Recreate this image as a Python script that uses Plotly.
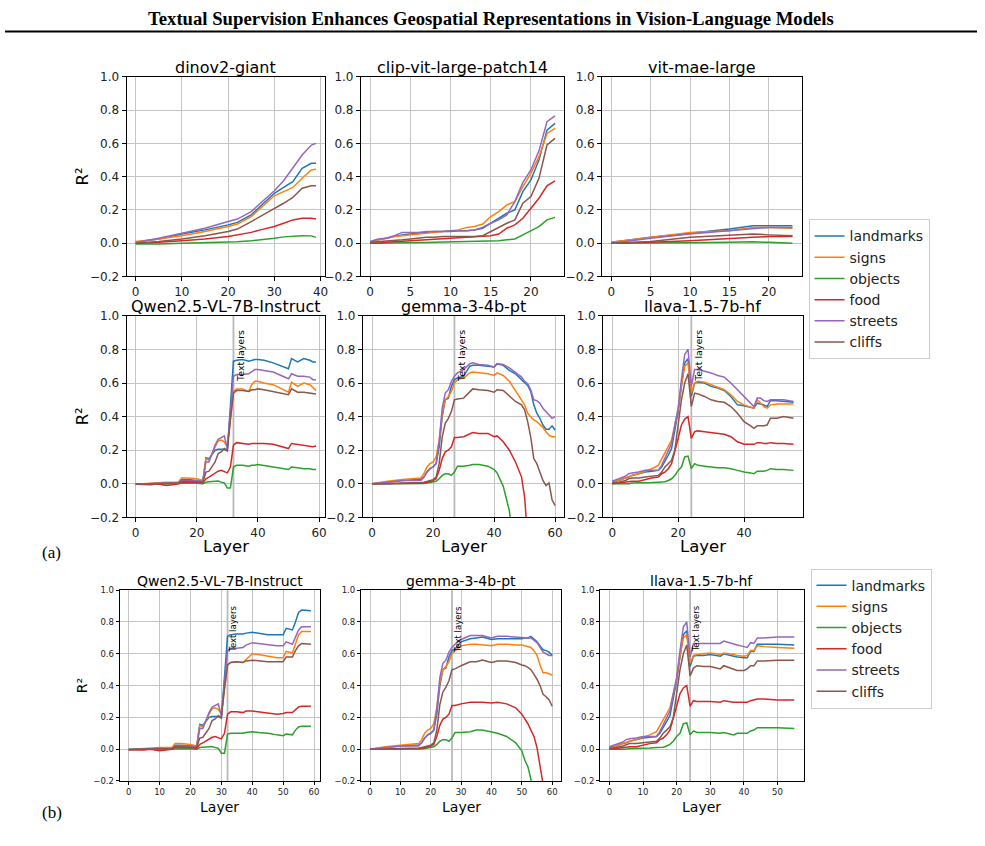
import plotly.graph_objects as go

W, H = 985, 846
SERIES = ["landmarks", "signs", "objects", "food", "streets", "cliffs"]
COLORS = ["#1f77b4", "#ff7f0e", "#2ca02c", "#d62728", "#9467bd", "#8c564b"]

# ---------------- dinov2-giant ----------------
dino_layers = [0, 5, 10, 15, 20, 22, 25, 27, 30, 32, 34, 36, 38, 39]
dino_landmarks = [0.005, 0.025, 0.055, 0.08, 0.11, 0.125, 0.17, 0.22, 0.30, 0.335, 0.37, 0.45, 0.48, 0.48]
dino_signs = [0.01, 0.025, 0.045, 0.07, 0.10, 0.115, 0.16, 0.21, 0.285, 0.31, 0.335, 0.39, 0.44, 0.445]
dino_objects = [-0.005, -0.005, 0.0, 0.003, 0.005, 0.008, 0.015, 0.02, 0.03, 0.038, 0.042, 0.045, 0.044, 0.035]
dino_food = [0.0, 0.005, 0.015, 0.025, 0.04, 0.05, 0.065, 0.08, 0.10, 0.12, 0.14, 0.15, 0.15, 0.145]
dino_streets = [0.005, 0.03, 0.06, 0.09, 0.13, 0.145, 0.19, 0.24, 0.315, 0.375, 0.45, 0.53, 0.59, 0.60]
dino_cliffs = [0.0, 0.01, 0.025, 0.045, 0.07, 0.085, 0.13, 0.16, 0.21, 0.24, 0.275, 0.33, 0.345, 0.345]

# ---------------- clip-vit-large-patch14 ----------------
clip_layers = list(range(24))
clip_landmarks = [0.005, 0.02, 0.03, 0.04, 0.05, 0.055, 0.06, 0.065, 0.07, 0.07, 0.07, 0.075, 0.075, 0.08, 0.09, 0.12, 0.15, 0.18, 0.20, 0.31, 0.38, 0.50, 0.68, 0.72]
clip_signs = [0.005, 0.02, 0.03, 0.04, 0.045, 0.05, 0.055, 0.06, 0.065, 0.07, 0.075, 0.08, 0.095, 0.10, 0.115, 0.16, 0.19, 0.23, 0.25, 0.34, 0.42, 0.52, 0.66, 0.69]
clip_objects = [0, 0, 0, 0, 0, 0.002, 0.003, 0.004, 0.005, 0.006, 0.007, 0.008, 0.009, 0.01, 0.01, 0.012, 0.015, 0.02, 0.025, 0.05, 0.075, 0.10, 0.14, 0.155]
clip_food = [0, 0, 0.005, 0.008, 0.01, 0.012, 0.015, 0.017, 0.02, 0.025, 0.028, 0.03, 0.032, 0.035, 0.04, 0.045, 0.055, 0.09, 0.11, 0.15, 0.21, 0.27, 0.345, 0.375]
clip_streets = [0.01, 0.025, 0.03, 0.045, 0.065, 0.065, 0.065, 0.07, 0.07, 0.07, 0.075, 0.075, 0.075, 0.08, 0.095, 0.12, 0.14, 0.17, 0.25, 0.365, 0.44, 0.555, 0.73, 0.765]
clip_cliffs = [0.005, 0.008, 0.01, 0.015, 0.02, 0.025, 0.03, 0.035, 0.035, 0.04, 0.04, 0.04, 0.04, 0.04, 0.045, 0.07, 0.09, 0.12, 0.14, 0.24, 0.28, 0.39, 0.59, 0.63]

# ---------------- vit-mae-large ----------------
mae_layers = [0, 5, 10, 15, 18, 20, 23]
mae_landmarks = [0.005, 0.035, 0.06, 0.085, 0.105, 0.105, 0.105]
mae_signs = [0.005, 0.035, 0.065, 0.075, 0.095, 0.095, 0.09]
mae_objects = [0.0, 0.0, 0.003, 0.005, 0.008, 0.005, 0.0]
mae_food = [0.0, 0.005, 0.015, 0.025, 0.035, 0.04, 0.04]
mae_streets = [0.0, 0.03, 0.055, 0.075, 0.09, 0.095, 0.095]
mae_cliffs = [0.0, 0.01, 0.035, 0.045, 0.055, 0.05, 0.045]

# ---------------- Qwen2.5-VL-7B-Instruct ----------------
qwen_text_start = 32
qwen_layers_head = [0, 5, 7, 10, 12, 14, 15, 17, 20, 22, 23, 24, 26, 27, 28, 29, 30, 31]
qwen_landmarks_head = [-0.002, 0.003, 0.005, 0.005, 0.005, 0.005, 0.025, 0.025, 0.02, 0.015, 0.155, 0.15, 0.20, 0.205, 0.205, 0.205, 0.195, 0.45]
qwen_signs_head = [-0.002, 0.005, 0.01, 0.01, 0.01, 0.01, 0.035, 0.035, 0.03, 0.02, 0.15, 0.14, 0.22, 0.255, 0.26, 0.25, 0.22, 0.38]
qwen_objects_head = [-0.002, 0.0, 0.0, 0.0, 0.0, 0.0, 0.005, 0.005, 0.003, 0.0, 0.01, 0.012, 0.015, 0.017, 0.01, 0.005, -0.025, -0.025]
qwen_food_head = [-0.003, -0.005, 0.0, -0.01, -0.005, 0.0, 0.01, 0.01, 0.01, 0.005, 0.03, 0.04, 0.065, 0.075, 0.08, 0.07, 0.065, 0.10]
qwen_streets_head = [-0.002, 0.003, 0.005, 0.005, 0.005, 0.005, 0.02, 0.02, 0.018, 0.015, 0.13, 0.13, 0.23, 0.265, 0.275, 0.285, 0.21, 0.42]
qwen_cliffs_head = [-0.002, 0.0, 0.005, 0.005, 0.005, 0.005, 0.015, 0.015, 0.012, 0.01, 0.07, 0.075, 0.13, 0.18, 0.19, 0.21, 0.20, 0.38]

qwen_a_layers_tail = [32, 33, 35, 37, 38, 39, 40, 42, 45, 50, 51, 53, 55, 57, 58, 59]
qwen_a_landmarks_tail = [0.73, 0.735, 0.74, 0.73, 0.735, 0.74, 0.74, 0.735, 0.72, 0.685, 0.745, 0.725, 0.745, 0.735, 0.725, 0.725]
qwen_a_signs_tail = [0.55, 0.565, 0.565, 0.55, 0.59, 0.61, 0.61, 0.60, 0.59, 0.545, 0.605, 0.58, 0.60, 0.59, 0.575, 0.555]
qwen_a_objects_tail = [0.10, 0.11, 0.11, 0.105, 0.11, 0.11, 0.115, 0.11, 0.10, 0.085, 0.10, 0.095, 0.09, 0.09, 0.085, 0.085]
qwen_a_food_tail = [0.23, 0.245, 0.24, 0.235, 0.24, 0.24, 0.24, 0.24, 0.235, 0.21, 0.24, 0.235, 0.23, 0.225, 0.22, 0.225]
qwen_a_streets_tail = [0.64, 0.65, 0.65, 0.655, 0.67, 0.68, 0.68, 0.675, 0.665, 0.625, 0.655, 0.64, 0.64, 0.635, 0.62, 0.62]
qwen_a_cliffs_tail = [0.54, 0.555, 0.555, 0.55, 0.56, 0.56, 0.565, 0.56, 0.55, 0.53, 0.565, 0.545, 0.545, 0.54, 0.535, 0.535]

qwen_b_layers_tail = [32, 33, 35, 37, 38, 40, 42, 45, 48, 50, 51, 53, 54, 55, 56, 59]
qwen_b_landmarks_tail = [0.71, 0.72, 0.725, 0.725, 0.73, 0.735, 0.73, 0.72, 0.72, 0.72, 0.76, 0.75, 0.80, 0.86, 0.875, 0.87]
qwen_b_signs_tail = [0.53, 0.545, 0.55, 0.545, 0.565, 0.60, 0.595, 0.585, 0.575, 0.575, 0.615, 0.605, 0.66, 0.72, 0.74, 0.74]
qwen_b_objects_tail = [0.095, 0.10, 0.10, 0.10, 0.105, 0.11, 0.105, 0.10, 0.09, 0.085, 0.095, 0.09, 0.12, 0.14, 0.145, 0.145]
qwen_b_food_tail = [0.22, 0.235, 0.235, 0.23, 0.24, 0.24, 0.235, 0.225, 0.22, 0.225, 0.23, 0.23, 0.25, 0.265, 0.27, 0.27]
qwen_b_streets_tail = [0.62, 0.635, 0.635, 0.64, 0.655, 0.67, 0.665, 0.655, 0.65, 0.65, 0.675, 0.66, 0.71, 0.75, 0.77, 0.77]
qwen_b_cliffs_tail = [0.53, 0.545, 0.55, 0.545, 0.555, 0.56, 0.555, 0.55, 0.55, 0.55, 0.58, 0.58, 0.62, 0.65, 0.665, 0.66]

# ---------------- gemma-3-4b-pt ----------------
gemma_text_start = 27
gemma_layers_head = [0, 5, 10, 15, 16, 17, 18, 19, 20, 21, 22, 23, 24, 25, 26, 27, 28]
gemma_landmarks_head = [0, 0.01, 0.02, 0.025, 0.025, 0.04, 0.07, 0.09, 0.10, 0.12, 0.22, 0.40, 0.50, 0.51, 0.58, 0.62, 0.63]
gemma_signs_head = [0, 0.015, 0.025, 0.035, 0.035, 0.06, 0.10, 0.12, 0.13, 0.16, 0.26, 0.42, 0.50, 0.52, 0.55, 0.60, 0.62]
gemma_objects_head = [0, 0, 0, 0, 0, 0.002, 0.005, 0.008, 0.01, 0.015, 0.03, 0.05, 0.06, 0.06, 0.05, 0.07, 0.105]
gemma_food_head = [0, 0, 0, 0, 0.003, 0.005, 0.01, 0.015, 0.02, 0.03, 0.08, 0.15, 0.19, 0.20, 0.22, 0.275, 0.275]
gemma_streets_head = [0, 0.01, 0.02, 0.02, 0.02, 0.04, 0.07, 0.09, 0.10, 0.12, 0.25, 0.45, 0.54, 0.56, 0.61, 0.64, 0.66]
gemma_cliffs_head = [0, 0, 0.005, 0.005, 0.008, 0.01, 0.015, 0.02, 0.025, 0.04, 0.12, 0.28, 0.36, 0.39, 0.43, 0.50, 0.505]

gemma_a_layers_tail = [30, 32, 33, 35, 38, 40, 41, 43, 45, 47, 49, 50, 51, 52, 53, 54, 55, 56, 57, 58, 59, 60]
gemma_a_landmarks_tail = [0.64, 0.70, 0.705, 0.705, 0.70, 0.695, 0.715, 0.705, 0.675, 0.655, 0.62, 0.60, 0.585, 0.55, 0.47, 0.42, 0.39, 0.35, 0.325, 0.325, 0.345, 0.32]
gemma_a_signs_tail = [0.63, 0.66, 0.665, 0.66, 0.655, 0.645, 0.66, 0.645, 0.61, 0.555, 0.50, 0.47, 0.42, 0.40, 0.38, 0.37, 0.355, 0.335, 0.31, 0.29, 0.28, 0.28]
gemma_a_objects_tail = [0.105, 0.11, 0.115, 0.115, 0.105, 0.085, 0.065, -0.015, -0.16, -0.45, None, None, None, None, None, None, None, None, None, None, None, None]
gemma_a_food_tail = [0.28, 0.30, 0.305, 0.30, 0.30, 0.28, 0.285, 0.25, 0.20, 0.13, 0.04, -0.08, -0.32, None, None, None, None, None, None, None, None, None]
gemma_a_streets_tail = [0.68, 0.715, 0.72, 0.71, 0.705, 0.695, 0.715, 0.71, 0.69, 0.665, 0.635, 0.61, 0.595, 0.56, 0.50, 0.495, 0.48, 0.45, 0.43, 0.41, 0.39, 0.40]
gemma_a_cliffs_tail = [0.51, 0.55, 0.565, 0.56, 0.555, 0.545, 0.56, 0.555, 0.52, 0.49, 0.47, 0.44, 0.37, 0.28, 0.15, 0.12, 0.07, 0.02, -0.01, 0.005, -0.095, -0.13]

gemma_b_layers_tail = [30, 33, 35, 37, 40, 42, 45, 48, 50, 51, 52, 53, 54, 55, 56, 57, 58, 59, 60]
gemma_b_landmarks_tail = [0.675, 0.695, 0.70, 0.705, 0.69, 0.695, 0.695, 0.695, 0.695, 0.70, 0.70, 0.71, 0.695, 0.675, 0.65, 0.625, 0.62, 0.61, 0.59]
gemma_b_signs_tail = [0.65, 0.66, 0.66, 0.655, 0.65, 0.66, 0.66, 0.655, 0.655, 0.65, 0.645, 0.64, 0.62, 0.59, 0.53, 0.48, 0.48, 0.475, 0.465]
gemma_b_objects_tail = [0.105, 0.11, 0.12, 0.12, 0.11, 0.10, 0.08, 0.04, -0.01, -0.07, -0.11, -0.19, -0.35, None, None, None, None, None, None]
gemma_b_food_tail = [0.285, 0.295, 0.295, 0.295, 0.29, 0.295, 0.285, 0.26, 0.22, 0.19, 0.16, 0.12, 0.08, 0.01, -0.11, -0.22, None, None, None]
gemma_b_streets_tail = [0.69, 0.715, 0.715, 0.715, 0.70, 0.71, 0.71, 0.705, 0.70, 0.70, 0.70, 0.70, 0.685, 0.67, 0.64, 0.61, 0.60, 0.59, 0.59]
gemma_b_cliffs_tail = [0.525, 0.55, 0.55, 0.56, 0.545, 0.555, 0.555, 0.545, 0.53, 0.525, 0.515, 0.50, 0.47, 0.44, 0.40, 0.345, 0.33, 0.31, 0.27]

# ---------------- llava-1.5-7b-hf ----------------
llava_text_start = 24
llava_layers_head = [0, 2, 4, 5, 6, 8, 10, 12, 14, 15, 16, 17, 18, 19, 20, 21, 22, 23, 24]
llava_landmarks_head = [0.01, 0.02, 0.035, 0.04, 0.05, 0.06, 0.07, 0.075, 0.08, 0.10, 0.14, 0.17, 0.21, 0.32, 0.43, 0.58, 0.72, 0.745, 0.52]
llava_signs_head = [0.005, 0.02, 0.035, 0.045, 0.05, 0.06, 0.075, 0.09, 0.11, 0.15, 0.19, 0.23, 0.26, 0.35, 0.44, 0.59, 0.70, 0.72, 0.54]
llava_objects_head = [0.0, 0.0, 0.0, 0.0, 0.005, 0.005, 0.005, 0.008, 0.01, 0.01, 0.012, 0.02, 0.03, 0.05, 0.08, 0.10, 0.16, 0.165, 0.09]
llava_food_head = [0.0, 0.005, 0.01, 0.012, 0.015, 0.015, 0.025, 0.035, 0.04, 0.06, 0.07, 0.09, 0.12, 0.19, 0.27, 0.35, 0.385, 0.40, 0.27]
llava_streets_head = [0.015, 0.03, 0.045, 0.06, 0.065, 0.07, 0.08, 0.08, 0.08, 0.11, 0.15, 0.19, 0.24, 0.35, 0.45, 0.62, 0.77, 0.80, 0.58]
llava_cliffs_head = [0.005, 0.01, 0.02, 0.03, 0.035, 0.035, 0.04, 0.045, 0.05, 0.07, 0.10, 0.12, 0.14, 0.20, 0.35, 0.50, 0.60, 0.655, 0.46]

llava_a_layers_tail = [25, 26, 28, 30, 32, 34, 36, 38, 40, 42, 43, 44, 45, 46, 47, 48, 50, 52, 55]
llava_a_landmarks_tail = [0.60, 0.605, 0.60, 0.58, 0.57, 0.555, 0.52, 0.47, 0.465, 0.455, 0.45, 0.48, 0.475, 0.47, 0.46, 0.495, 0.495, 0.49, 0.485]
llava_a_signs_tail = [0.60, 0.61, 0.605, 0.59, 0.575, 0.56, 0.53, 0.49, 0.47, 0.455, 0.45, 0.50, 0.48, 0.46, 0.45, 0.47, 0.475, 0.475, 0.475]
llava_a_objects_tail = [0.12, 0.11, 0.105, 0.10, 0.095, 0.095, 0.09, 0.08, 0.07, 0.065, 0.06, 0.075, 0.075, 0.075, 0.08, 0.09, 0.085, 0.085, 0.08]
llava_a_food_tail = [0.31, 0.315, 0.31, 0.305, 0.30, 0.295, 0.28, 0.25, 0.235, 0.235, 0.235, 0.245, 0.245, 0.24, 0.24, 0.245, 0.24, 0.24, 0.235]
llava_a_streets_tail = [0.68, 0.68, 0.67, 0.66, 0.645, 0.635, 0.60, 0.56, 0.52, 0.48, 0.46, 0.51, 0.51, 0.495, 0.49, 0.50, 0.50, 0.50, 0.49]
llava_a_cliffs_tail = [0.54, 0.535, 0.52, 0.50, 0.49, 0.485, 0.46, 0.42, 0.37, 0.345, 0.33, 0.345, 0.345, 0.345, 0.35, 0.39, 0.39, 0.40, 0.39]

llava_b_layers_tail = [25, 26, 28, 30, 33, 34, 37, 38, 40, 41, 42, 43, 44, 46, 50, 55]
llava_b_landmarks_tail = [0.585, 0.59, 0.59, 0.595, 0.585, 0.60, 0.585, 0.58, 0.575, 0.575, 0.615, 0.615, 0.66, 0.66, 0.66, 0.655]
llava_b_signs_tail = [0.59, 0.595, 0.60, 0.605, 0.595, 0.605, 0.595, 0.59, 0.585, 0.59, 0.62, 0.62, 0.65, 0.645, 0.64, 0.635]
llava_b_objects_tail = [0.115, 0.105, 0.105, 0.105, 0.10, 0.105, 0.09, 0.10, 0.10, 0.10, 0.115, 0.12, 0.135, 0.135, 0.135, 0.13]
llava_b_food_tail = [0.305, 0.30, 0.30, 0.30, 0.295, 0.305, 0.295, 0.295, 0.295, 0.295, 0.305, 0.31, 0.315, 0.315, 0.31, 0.31]
llava_b_streets_tail = [0.665, 0.665, 0.665, 0.665, 0.665, 0.68, 0.66, 0.655, 0.645, 0.64, 0.67, 0.665, 0.70, 0.70, 0.705, 0.705]
llava_b_cliffs_tail = [0.51, 0.525, 0.52, 0.52, 0.505, 0.525, 0.505, 0.495, 0.495, 0.505, 0.525, 0.525, 0.555, 0.555, 0.56, 0.56]

y_ticks = [-0.2, 0.0, 0.2, 0.4, 0.6, 0.8, 1.0]

# ------------------------------------------------------------------
def join(a, b):
    return list(a) + list(b)

panels = [
    dict(title="dinov2-giant", x=dino_layers,
         ys=[dino_landmarks, dino_signs, dino_objects, dino_food, dino_streets, dino_cliffs],
         box=(127, 326, 71, 274), xticks=[0, 10, 20, 30, 40], text=None, xlabel=False, ylabel=True, big=True),
    dict(title="clip-vit-large-patch14", x=clip_layers,
         ys=[clip_landmarks, clip_signs, clip_objects, clip_food, clip_streets, clip_cliffs],
         box=(362, 566, 71, 274), xticks=[0, 5, 10, 15, 20], text=None, xlabel=False, ylabel=False, big=True),
    dict(title="vit-mae-large", x=mae_layers,
         ys=[mae_landmarks, mae_signs, mae_objects, mae_food, mae_streets, mae_cliffs],
         box=(604, 804, 71, 274), xticks=[0, 5, 10, 15, 20], text=None, xlabel=False, ylabel=False, big=True),
    dict(title="Qwen2.5-VL-7B-Instruct", x=join(qwen_layers_head, qwen_a_layers_tail),
         ys=[join(qwen_landmarks_head, qwen_a_landmarks_tail), join(qwen_signs_head, qwen_a_signs_tail),
             join(qwen_objects_head, qwen_a_objects_tail), join(qwen_food_head, qwen_a_food_tail),
             join(qwen_streets_head, qwen_a_streets_tail), join(qwen_cliffs_head, qwen_a_cliffs_tail)],
         box=(127, 326, 314, 519), xticks=[0, 20, 40, 60], text=qwen_text_start, xlabel=True, ylabel=True, big=True),
    dict(title="gemma-3-4b-pt", x=join(gemma_layers_head, gemma_a_layers_tail),
         ys=[join(gemma_landmarks_head, gemma_a_landmarks_tail), join(gemma_signs_head, gemma_a_signs_tail),
             join(gemma_objects_head, gemma_a_objects_tail), join(gemma_food_head, gemma_a_food_tail),
             join(gemma_streets_head, gemma_a_streets_tail), join(gemma_cliffs_head, gemma_a_cliffs_tail)],
         box=(364, 566, 314, 519), xticks=[0, 20, 40, 60], text=gemma_text_start, xlabel=True, ylabel=False, big=True),
    dict(title="llava-1.5-7b-hf", x=join(llava_layers_head, llava_a_layers_tail),
         ys=[join(llava_landmarks_head, llava_a_landmarks_tail), join(llava_signs_head, llava_a_signs_tail),
             join(llava_objects_head, llava_a_objects_tail), join(llava_food_head, llava_a_food_tail),
             join(llava_streets_head, llava_a_streets_tail), join(llava_cliffs_head, llava_a_cliffs_tail)],
         box=(605, 805, 314, 519), xticks=[0, 20, 40], text=llava_text_start, xlabel=True, ylabel=False, big=True),
    dict(title="Qwen2.5-VL-7B-Instruct", x=join(qwen_layers_head, qwen_b_layers_tail),
         ys=[join(qwen_landmarks_head, qwen_b_landmarks_tail), join(qwen_signs_head, qwen_b_signs_tail),
             join(qwen_objects_head, qwen_b_objects_tail), join(qwen_food_head, qwen_b_food_tail),
             join(qwen_streets_head, qwen_b_streets_tail), join(qwen_cliffs_head, qwen_b_cliffs_tail)],
         box=(120, 321, 593, 787), xticks=[0, 10, 20, 30, 40, 50, 60], text=qwen_text_start, xlabel=True, ylabel=True, big=False),
    dict(title="gemma-3-4b-pt", x=join(gemma_layers_head, gemma_b_layers_tail),
         ys=[join(gemma_landmarks_head, gemma_b_landmarks_tail), join(gemma_signs_head, gemma_b_signs_tail),
             join(gemma_objects_head, gemma_b_objects_tail), join(gemma_food_head, gemma_b_food_tail),
             join(gemma_streets_head, gemma_b_streets_tail), join(gemma_cliffs_head, gemma_b_cliffs_tail)],
         box=(362, 563, 593, 787), xticks=[0, 10, 20, 30, 40, 50, 60], text=gemma_text_start, xlabel=True, ylabel=False, big=False),
    dict(title="llava-1.5-7b-hf", x=join(llava_layers_head, llava_b_layers_tail),
         ys=[join(llava_landmarks_head, llava_b_landmarks_tail), join(llava_signs_head, llava_b_signs_tail),
             join(llava_objects_head, llava_b_objects_tail), join(llava_food_head, llava_b_food_tail),
             join(llava_streets_head, llava_b_streets_tail), join(llava_cliffs_head, llava_b_cliffs_tail)],
         box=(602, 806, 593, 787), xticks=[0, 10, 20, 30, 40, 50], text=llava_text_start, xlabel=True, ylabel=False, big=False),
]

FONT = "DejaVu Sans"
fig = go.Figure()
layout = dict(width=W, height=H, margin=dict(l=0, r=0, t=0, b=0), autosize=False,
              paper_bgcolor="white", plot_bgcolor="white",
              font=dict(family=FONT, color="#222"), showlegend=True)
annotations = []
shapes = []

for i, p in enumerate(panels, start=1):
    xa = "xaxis" if i == 1 else f"xaxis{i}"
    ya = "yaxis" if i == 1 else f"yaxis{i}"
    xr = "x" if i == 1 else f"x{i}"
    yr = "y" if i == 1 else f"y{i}"
    l, r, t, b = p["box"]
    big = p["big"]
    tick_size = 12 if big else 8.5
    title_size = 16 if big else 14
    label_size = 16.5 if big else 14
    n = max(p["x"])
    common = dict(showgrid=True, gridcolor="#c4c4c4", gridwidth=1, zeroline=False,
                  showline=True, mirror=True, linecolor="black", linewidth=1,
                  ticks="outside", ticklen=4 if big else 3, tickwidth=1, tickcolor="black",
                  tickfont=dict(family=FONT, size=tick_size, color="#222"))
    layout[xa] = dict(common, domain=[l / W, r / W], anchor=yr,
                      range=[-0.05 * n, 1.05 * n], tickvals=p["xticks"])
    layout[ya] = dict(common, domain=[1 - b / H, 1 - t / H], anchor=xr,
                      range=[-0.2, 1.0], tickvals=y_ticks, tickformat=".1f")

    for k, name in enumerate(SERIES):
        fig.add_trace(go.Scatter(
            x=p["x"], y=p["ys"][k], mode="lines", name=name,
            line=dict(color=COLORS[k], width=1.5),
            xaxis=xr, yaxis=yr, legendgroup=name,
            legend="legend" if i <= 6 else "legend2",
            showlegend=(i == 1 or i == 7), connectgaps=False,
        ))

    # subplot title
    annotations.append(dict(text=p["title"], xref="paper", yref="paper",
                            x=(l + r) / 2 / W, y=1 - (t - 9) / H,
                            xanchor="center", yanchor="middle", showarrow=False,
                            font=dict(family=FONT, size=title_size, color="black")))
    if p["ylabel"]:
        annotations.append(dict(text="R²", xref="paper", yref="paper",
                                x=(l - (44 if big else 38)) / W, y=1 - (t + b) / 2 / H,
                                xanchor="center", yanchor="middle", textangle=-90, showarrow=False,
                                font=dict(family=FONT, size=label_size, color="black")))
    if p["xlabel"]:
        annotations.append(dict(text="Layer", xref="paper", yref="paper",
                                x=(l + r) / 2 / W, y=1 - (b + (30 if big else 26)) / H,
                                xanchor="center", yanchor="middle", showarrow=False,
                                font=dict(family=FONT, size=label_size, color="black")))
    if p["text"] is not None:
        shapes.append(dict(type="line", xref=xr, yref=f"{yr} domain",
                           x0=p["text"], x1=p["text"], y0=0, y1=1,
                           line=dict(color="rgba(128,128,128,0.55)", width=1.8), layer="below"))
        annotations.append(dict(text="Text layers", xref=xr, yref=yr, x=p["text"], y=0.6,
                                xanchor="left", yanchor="bottom", textangle=-90, showarrow=False,
                                borderpad=0,
                                font=dict(family=FONT, size=9.5 if big else 8.5, color="black")))

# page title and rule
annotations.append(dict(text="<b>Textual Supervision Enhances Geospatial Representations in Vision-Language Models</b>",
                        xref="paper", yref="paper", x=0.5, y=1 - 12 / H, xanchor="center", yanchor="middle",
                        showarrow=False, font=dict(family="Liberation Serif", size=18.7, color="black")))
shapes.append(dict(type="line", xref="paper", yref="paper", x0=5 / W, x1=980 / W,
                   y0=1 - 25 / H, y1=1 - 25 / H, line=dict(color="black", width=2)))

# panel labels
for lab, yy in [("(a)", 555), ("(b)", 819)]:
    annotations.append(dict(text=lab, xref="paper", yref="paper", x=52 / W, y=1 - yy / H,
                            xanchor="center", yanchor="middle", showarrow=False,
                            font=dict(family="Liberation Serif", size=17, color="black")))

legend_style = dict(font=dict(family=FONT, size=14, color="#222"), bgcolor="white",
                    bordercolor="#cccccc", borderwidth=1, itemwidth=30,
                    xanchor="left", yanchor="top", tracegroupgap=0)
layout["legend"] = dict(legend_style, x=811 / W, y=1 - 216 / H)
layout["legend2"] = dict(legend_style, x=813 / W, y=1 - 571 / H)
layout["annotations"] = annotations
layout["shapes"] = shapes

fig.update_layout(**layout)
fig.write_html("out.html", config={"responsive": False},
               post_script="document.body.style.margin='0px';document.body.style.padding='0px';")
